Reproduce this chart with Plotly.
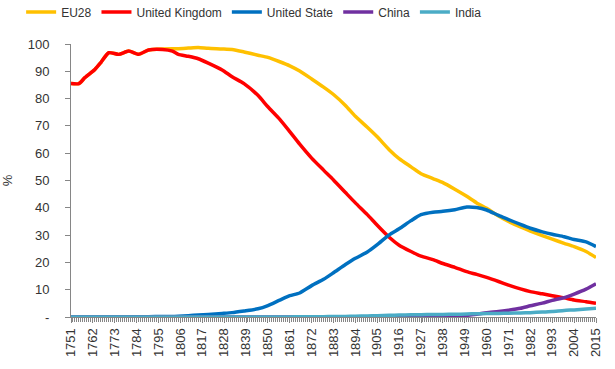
import plotly.graph_objects as go

years = [1751,1755,1758,1763,1766,1770,1775,1780,1785,1790,
         1797,1802,1805,1810,1815,1820,1827,1832,1838,1845,
         1850,1856,1861,1866,1872,1878,1883,1889,1894,1900,
         1905,1911,1916,1922,1927,1933,1938,1944,1950,1955,
         1960,1966,1971,1977,1982,1988,1993,1999,2004,2010,
         2015]

eu28 = [85.5,85.5,87.7,90.7,93.2,96.8,96.2,97.4,96.2,97.8,
        98.2,98.3,98.3,98.5,98.7,98.4,98.2,98.0,97.1,95.9,
        95.1,93.5,92.0,90.1,87.2,84.2,81.5,77.5,73.5,69.5,
        66.0,61.3,58.0,55.0,52.5,50.7,49.2,46.8,44.2,41.8,
        39.8,37.0,35.0,33.0,31.5,29.8,28.5,27.0,25.8,24.0,
        21.8]

uk = [85.5,85.5,87.7,90.7,93.2,96.8,96.2,97.4,96.2,97.8,
      98.0,97.4,96.2,95.5,94.6,93.0,90.5,88.0,85.5,81.2,
      77.0,72.4,67.9,63.3,58.2,53.8,50.2,45.6,41.8,37.5,
      33.6,29.2,26.3,24.0,22.3,21.0,19.6,18.2,16.6,15.6,
      14.5,13.0,11.7,10.3,9.3,8.5,7.8,7.0,6.2,5.6,
      5.0]

us = [0,0,0,0,0,0,0,0,0.1,0.1,
      0.2,0.2,0.3,0.5,0.7,0.9,1.3,1.6,2.2,3.0,
      4.2,6.2,7.8,8.8,11.5,13.8,16.2,19.2,21.5,23.8,
      26.5,30.1,32.3,35.3,37.5,38.4,38.7,39.3,40.3,40.1,
      39.2,37.2,35.7,33.9,32.5,31.2,30.3,29.4,28.4,27.5,
      25.8]

china = [0,0,0,0,0,0,0,0,0,0,
         0,0,0,0,0,0,0,0,0,0,
         0,0,0,0,0,0,0,0,0,0.1,
         0.1,0.2,0.2,0.3,0.3,0.4,0.4,0.5,0.6,1.0,
         1.6,2.0,2.5,3.2,4.1,5.1,6.1,7.1,8.4,10.2,
         12.2]

india = [0,0,0,0,0,0,0,0,0,0,
         0,0,0,0,0,0,0,0,0,0,
         0,0,0,0.1,0.1,0.1,0.2,0.2,0.3,0.4,
         0.5,0.6,0.7,0.8,0.85,0.9,0.95,1.0,1.1,1.2,
         1.25,1.3,1.4,1.5,1.6,1.8,2.0,2.4,2.6,2.9,
         3.2]

series = [("EU28", eu28, "#FFC000"),
          ("United Kingdom", uk, "#FF0000"),
          ("United State", us, "#0070C0"),
          ("China", china, "#7030A0"),
          ("India", india, "#4BACC6")]

x_ticks = list(range(1751, 2016, 11))
y_ticks = list(range(0, 101, 10))
y_labels = ["-"] + [str(v) for v in y_ticks[1:]]

fig = go.Figure()
for name, vals, color in series:
    fig.add_trace(go.Scatter(x=years, y=vals, name=name, mode="lines",
                             line=dict(color=color, width=3.5, shape="spline", smoothing=0.6),
                             cliponaxis=False))

font = "Liberation Sans"
fig.update_layout(
    width=615, height=369,
    margin=dict(l=71, r=19, t=44, b=52, autoexpand=False),
    paper_bgcolor="white", plot_bgcolor="white",
    font=dict(family=font, size=12, color="#333333"),
    legend=dict(orientation="h", x=-0.095, xanchor="left", y=1.117, yanchor="middle",
                font=dict(size=12, color="#333333"), itemwidth=30,
                tracegroupgap=0),
    showlegend=True,
)
fig.update_xaxes(range=[1751, 2015], tickvals=x_ticks, tickangle=-90,
                 showline=True, linecolor="#868686", linewidth=1,
                 ticks="outside", ticklen=5, tickcolor="#868686",
                 showgrid=False, zeroline=False,
                 minor=dict(dtick=1, tick0=1751, ticks="outside", ticklen=4,
                            tickcolor="#868686", showgrid=False),
                 tickfont=dict(size=13))
fig.update_yaxes(range=[0, 100], tickvals=y_ticks, ticktext=y_labels,
                 showline=True, linecolor="#868686", linewidth=1,
                 ticks="outside", ticklen=5, tickcolor="#868686",
                 showgrid=False, zeroline=False, ticklabelstandoff=13,
                 title=dict(text="%", standoff=14, font=dict(size=13)),
                 tickfont=dict(size=13))

fig.write_html("out.html", post_script="document.body.style.margin='0';",
               config={"displayModeBar": False})
